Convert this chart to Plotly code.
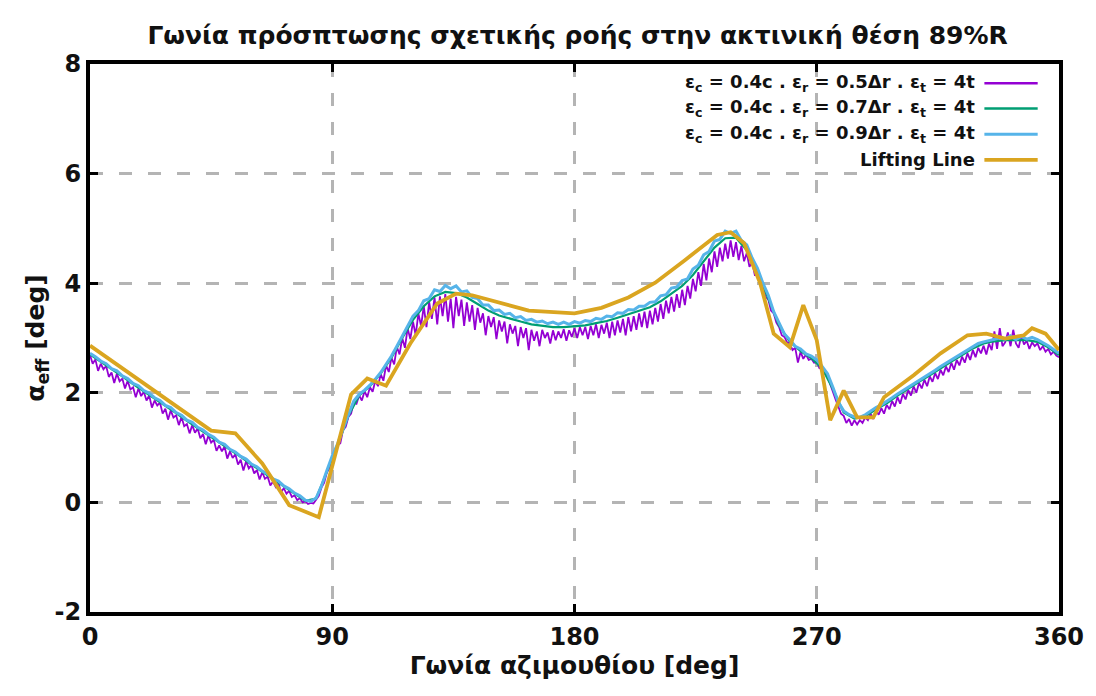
import plotly.graph_objects as go

# Azimuth grids (deg)
AZIMUTH_05 = list(range(0, 361, 1))
AZIMUTH_07 = list(range(0, 361, 4))
AZIMUTH_09 = list(range(0, 361, 2))

# eps_c = 0.4c, eps_r = 0.5dr, eps_t = 4t  (1 deg step)
ALPHA_05 = [
    2.69, 2.53, 2.61, 2.40, 2.53, 2.43, 2.49, 2.29, 2.37, 2.18,
    2.35, 2.21, 2.26, 2.08, 2.22, 2.06, 2.10, 1.92, 2.08, 1.94,
    2.02, 1.86, 1.95, 1.73, 1.86, 1.77, 1.82, 1.62, 1.71, 1.51,
    1.68, 1.55, 1.59, 1.41, 1.56, 1.39, 1.43, 1.26, 1.41, 1.27,
    1.35, 1.17, 1.25, 1.06, 1.22, 1.09, 1.14, 0.94, 1.04, 0.93,
    1.02, 0.80, 0.93, 0.81, 0.88, 0.69, 0.78, 0.58, 0.75, 0.62,
    0.68, 0.53, 0.59, 0.42, 0.55, 0.43, 0.47, 0.31, 0.38, 0.28,
    0.35, 0.19, 0.26, 0.16, 0.21, 0.10, 0.13, 0.04, 0.08, 0.00,
    0.02, -0.03, -0.01, -0.02, 0.05, 0.12, 0.27, 0.36, 0.55, 0.62,
    0.82, 0.86, 1.04, 1.08, 1.32, 1.38, 1.56, 1.62, 1.82, 1.80,
    1.95, 1.86, 2.03, 1.92, 2.10, 2.02, 2.22, 2.12, 2.34, 2.22,
    2.50, 2.38, 2.64, 2.52, 2.84, 2.70, 3.00, 2.82, 3.18, 2.98,
    3.30, 3.05, 3.45, 3.22, 3.58, 3.20, 3.66, 3.35, 3.74, 3.25,
    3.76, 3.40, 3.80, 3.30, 3.72, 3.18, 3.75, 3.40, 3.70, 3.22,
    3.65, 3.30, 3.60, 3.15, 3.55, 3.28, 3.45, 3.05, 3.40, 3.20,
    3.38, 2.98, 3.32, 3.12, 3.30, 2.90, 3.25, 3.08, 3.22, 2.85,
    3.20, 3.00, 3.18, 2.78, 3.15, 2.95, 3.12, 2.85, 3.15, 3.00,
    3.10, 2.90, 3.14, 2.96, 3.12, 3.00, 3.16, 2.95, 3.14, 3.02,
    3.18, 3.00, 3.20, 3.05, 3.20, 2.98, 3.22, 3.05, 3.25, 3.00,
    3.24, 3.08, 3.28, 3.00, 3.30, 3.05, 3.32, 3.10, 3.35, 3.05,
    3.38, 3.12, 3.40, 3.15, 3.45, 3.20, 3.48, 3.18, 3.50, 3.25,
    3.55, 3.30, 3.62, 3.35, 3.68, 3.45, 3.75, 3.48, 3.80, 3.55,
    3.88, 3.60, 3.95, 3.72, 4.08, 3.85, 4.20, 3.95, 4.35, 4.05,
    4.45, 4.20, 4.58, 4.30, 4.65, 4.40, 4.72, 4.45, 4.78, 4.48,
    4.75, 4.42, 4.68, 4.40, 4.55, 4.30, 4.38, 4.15, 4.15, 3.98,
    3.95, 3.75, 3.70, 3.50, 3.45, 3.28, 3.20, 3.05, 3.02, 2.92,
    2.90, 2.78, 2.82, 2.55, 2.75, 2.62, 2.70, 2.60, 2.62, 2.55,
    2.56, 2.45, 2.44, 2.35, 2.30, 2.15, 2.02, 1.88, 1.75, 1.62,
    1.58, 1.45, 1.52, 1.40, 1.50, 1.42, 1.50, 1.45, 1.55, 1.50,
    1.62, 1.52, 1.68, 1.60, 1.72, 1.62, 1.78, 1.70, 1.85, 1.75,
    1.92, 1.80, 1.98, 1.88, 2.05, 1.95, 2.12, 2.00, 2.18, 2.08,
    2.24, 2.12, 2.30, 2.20, 2.36, 2.25, 2.42, 2.32, 2.48, 2.38,
    2.55, 2.42, 2.60, 2.50, 2.66, 2.55, 2.72, 2.60, 2.78, 2.65,
    2.82, 2.72, 2.86, 2.70, 2.90, 2.78, 3.12, 2.80, 3.18, 2.85,
    2.92, 3.10, 2.85, 3.15, 2.90, 2.82, 3.05, 2.88, 2.95, 2.80,
    2.92, 2.85, 2.90, 2.78, 2.85, 2.75, 2.80, 2.70, 2.75, 2.68,
    2.65,
]

# eps_c = 0.4c, eps_r = 0.7dr, eps_t = 4t  (4 deg step)
ALPHA_07 = [
    2.70, 2.57, 2.43, 2.30, 2.16, 2.03, 1.90, 1.76, 1.63, 1.49,
    1.36, 1.23, 1.09, 0.96, 0.83, 0.69, 0.56, 0.42, 0.29, 0.16,
    0.03, 0.07, 0.56, 1.05, 1.58, 1.95, 2.12, 2.35, 2.64, 3.00,
    3.33, 3.58, 3.76, 3.84, 3.82, 3.74, 3.62, 3.50, 3.41, 3.35,
    3.30, 3.25, 3.22, 3.20, 3.20, 3.21, 3.23, 3.27, 3.31, 3.37,
    3.43, 3.49, 3.56, 3.67, 3.81, 3.95, 4.15, 4.41, 4.65, 4.82,
    4.83, 4.60, 4.20, 3.72, 3.23, 2.93, 2.76, 2.63, 2.45, 2.07,
    1.64, 1.53, 1.57, 1.70, 1.81, 1.95, 2.08, 2.20, 2.32, 2.45,
    2.57, 2.69, 2.81, 2.90, 2.94, 2.96, 2.96, 2.96, 2.93, 2.83,
    2.69,
]

# eps_c = 0.4c, eps_r = 0.9dr, eps_t = 4t  (2 deg step)
ALPHA_09 = [
    2.72, 2.66, 2.58, 2.53, 2.44, 2.40, 2.31, 2.26, 2.17, 2.13,
    2.04, 1.99, 1.91, 1.86, 1.77, 1.73, 1.64, 1.59, 1.50, 1.46,
    1.37, 1.32, 1.24, 1.19, 1.10, 1.06, 0.97, 0.92, 0.84, 0.79,
    0.70, 0.65, 0.57, 0.52, 0.43, 0.39, 0.30, 0.25, 0.17, 0.12,
    0.04, 0.02, 0.08, 0.30, 0.58, 0.85, 1.07, 1.35, 1.60, 1.85,
    1.97, 2.05, 2.14, 2.25, 2.37, 2.52, 2.67, 2.85, 3.04, 3.22,
    3.40, 3.50, 3.68, 3.72, 3.88, 3.85, 3.96, 3.90, 3.95, 3.84,
    3.86, 3.74, 3.72, 3.60, 3.60, 3.50, 3.51, 3.43, 3.45, 3.37,
    3.39, 3.32, 3.34, 3.29, 3.31, 3.26, 3.29, 3.25, 3.29, 3.25,
    3.30, 3.27, 3.32, 3.30, 3.36, 3.34, 3.40, 3.39, 3.46, 3.45,
    3.52, 3.51, 3.58, 3.58, 3.65, 3.66, 3.77, 3.79, 3.91, 3.93,
    4.05, 4.08, 4.26, 4.33, 4.52, 4.58, 4.77, 4.80, 4.95, 4.91,
    4.95, 4.78, 4.70, 4.46, 4.27, 4.00, 3.78, 3.48, 3.27, 3.07,
    2.97, 2.85, 2.80, 2.71, 2.67, 2.60, 2.48, 2.35, 2.10, 1.83,
    1.67, 1.60, 1.56, 1.55, 1.60, 1.67, 1.73, 1.78, 1.84, 1.91,
    1.98, 2.04, 2.11, 2.17, 2.23, 2.29, 2.35, 2.41, 2.48, 2.54,
    2.60, 2.66, 2.72, 2.78, 2.84, 2.90, 2.93, 2.95, 2.97, 3.00,
    2.98, 3.04, 2.97, 3.03, 2.98, 3.01, 2.97, 2.92, 2.86, 2.79,
    2.72,
]

# Lifting line solution
AZIMUTH_LL = [0, 45, 54, 64, 74, 85, 97, 103, 110, 119, 129, 136, 142,
              150, 163, 180, 190, 200, 210, 221, 233, 238, 243, 249, 254,
              260, 265, 270, 275, 280, 285, 291, 295, 306, 316, 326, 333,
              340, 347, 350, 355, 360]
ALPHA_LL = [2.86, 1.31, 1.26, 0.71, -0.05, -0.27, 1.97, 2.26, 2.13, 2.90,
            3.63, 3.81, 3.78, 3.67, 3.50, 3.45, 3.55, 3.74, 4.01, 4.42,
            4.88, 4.93, 4.73, 4.00, 3.08, 2.83, 3.60, 2.96, 1.50, 2.04,
            1.55, 1.55, 1.92, 2.32, 2.72, 3.05, 3.08, 2.99, 3.05, 3.18,
            3.08, 2.78]

LEGEND_LABELS = [
    "ε<sub>c</sub> = 0.4c . ε<sub>r</sub> = 0.5Δr . ε<sub>t</sub> = 4t",
    "ε<sub>c</sub> = 0.4c . ε<sub>r</sub> = 0.7Δr . ε<sub>t</sub> = 4t",
    "ε<sub>c</sub> = 0.4c . ε<sub>r</sub> = 0.9Δr . ε<sub>t</sub> = 4t",
    "Lifting Line",
]
COLORS = ["#9400D3", "#009E73", "#56B4E9", "#DAA520"]
WIDTHS = [1.8, 2.2, 3, 3.8]

X_TICKS = [0, 90, 180, 270, 360]
Y_TICKS = [-2, 0, 2, 4, 6, 8]
Y_TICK_TEXT = ["-2", "0", "2", "4", "6", "8"]

FONT = "DejaVu Sans"
INK = "#111111"

series = [
    (AZIMUTH_05, ALPHA_05),
    (AZIMUTH_07, ALPHA_07),
    (AZIMUTH_09, ALPHA_09),
    (AZIMUTH_LL, ALPHA_LL),
]

fig = go.Figure()
for (xs, ys), name, color, width in zip(series, LEGEND_LABELS, COLORS, WIDTHS):
    fig.add_trace(go.Scatter(
        x=xs, y=ys, mode="lines", name=name,
        line=dict(color=color, width=width),
        showlegend=False,
    ))

# gnuplot-style key: right-aligned text with the sample line to its right
fig.add_shape(type="rect", xref="paper", yref="paper",
              x0=0.617, x1=0.996, y0=0.812, y1=0.995,
              fillcolor="white", line=dict(width=0), layer="between")
row_y = [0.965, 0.919, 0.872, 0.825]
for label, color, width, yy in zip(LEGEND_LABELS, COLORS, WIDTHS, row_y):
    fig.add_annotation(
        xref="paper", yref="paper", x=0.915, y=yy,
        xanchor="right", yanchor="middle", showarrow=False,
        text="<b>" + label + "</b>",
        font=dict(family=FONT, size=18, color=INK),
    )
    fig.add_shape(type="line", xref="paper", yref="paper",
                  x0=0.923, x1=0.978, y0=yy, y1=yy,
                  line=dict(color=color, width=max(width, 2.5)))

axis_style = dict(showgrid=True, gridcolor="#B4B4B4", gridwidth=3,
                  griddash="13px,16px", zeroline=False,
                  showline=True, linecolor="black", linewidth=4, mirror="ticks",
                  ticks="inside", ticklen=8, tickwidth=3, tickcolor="black",
                  tickfont=dict(family=FONT, size=24, color=INK, weight="bold"))

fig.update_xaxes(range=[0, 360], tickvals=X_TICKS, **axis_style,
                 title=dict(text="<b>Γωνία αζιμουθίου [deg]</b>",
                            font=dict(family=FONT, size=25, color=INK),
                            standoff=6))
fig.update_yaxes(range=[-2, 8], tickvals=Y_TICKS, ticktext=Y_TICK_TEXT,
                 **axis_style,
                 title=dict(text="<b>α<sub>eff</sub> [deg]</b>",
                            font=dict(family=FONT, size=25, color=INK),
                            standoff=4))

fig.update_layout(
    width=1096, height=696,
    margin=dict(l=90, r=33, t=64, b=84),
    paper_bgcolor="white", plot_bgcolor="white",
    title=dict(text="<b>Γωνία πρόσπτωσης σχετικής ροής στην ακτινική θέση 89%R</b>",
               x=0.527, xanchor="center", y=0.95, yanchor="middle",
               font=dict(family=FONT, size=25, color=INK)),
)

fig.write_html("out.html")
